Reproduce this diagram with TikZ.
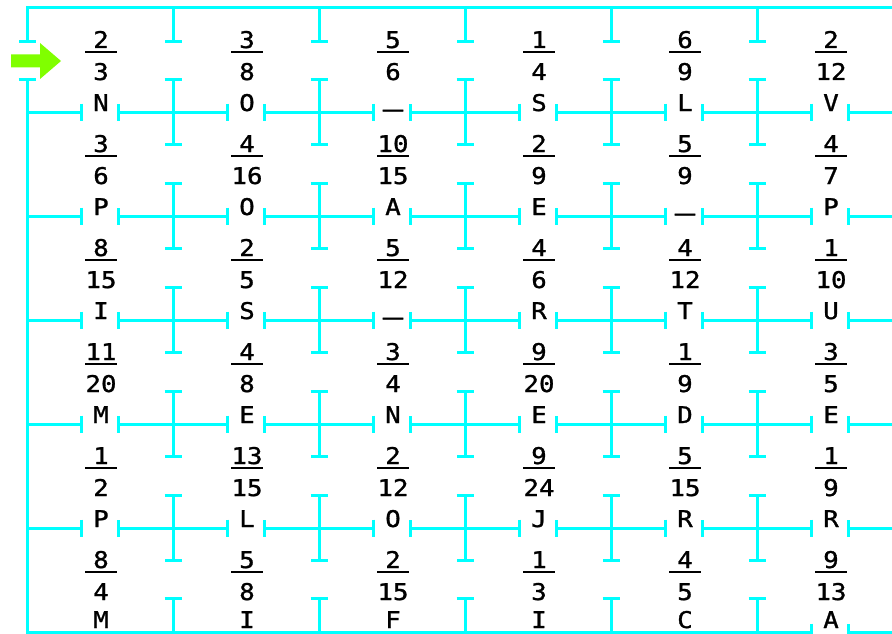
\documentclass[tikz,border=0pt]{standalone}
\usepackage{fontspec}
\newfontfamily\mazefont[FakeStretch=1.12, FakeBold=1.2]{DejaVu Sans Mono}
\usetikzlibrary{arrows.meta}
\definecolor{wallcyan}{RGB}{0,255,255}
\definecolor{entrygreen}{RGB}{128,255,0}
\newcommand\blankmark{\raisebox{9.3pt}{\scalebox{1.3}[1.8]{\_}}}

\begin{document}
\begin{tikzpicture}[
  x=1pt, y=-1pt,
  wall/.style={draw=wallcyan, line width=3pt},
  capboth/.style={wall, {Bar[width=17pt]}-{Bar[width=17pt]}},
  capend/.style={wall, -{Bar[width=17pt]}},
  capstart/.style={wall, {Bar[width=17pt]}-},
  glyph/.style={font=\mazefont\fontsize{23}{23}\selectfont, inner sep=0pt, anchor=base},
  fracbar/.style={line width=2pt}
]
\useasboundingbox (0,0) rectangle (892,634);
% outer walls, with the way in on the left and the way out at the bottom right
\draw[capstart] (27,42.7) -- (27,8) -- (892,8);
\draw[capboth] (27,78.3) -- (27,632) -- (813,632);
\draw[capstart] (847,632) -- (892,632);
% inner walls: rows
\foreach \k in {1,...,5} {
  \pgfmathsetmacro\yk{8+104*\k}
  \draw[capend] (27,\yk) -- (83,\yk);
  \foreach \c in {0,...,4}
    \draw[capboth] ({117+146*\c},\yk) -- ({229+146*\c},\yk);
  \draw[capstart] (847,\yk) -- (892,\yk);
}
% inner walls: columns
\foreach \j in {1,...,5} {
  \pgfmathsetmacro\xj{27+146*\j}
  \draw[capend] (\xj,8) -- (\xj,42.7);
  \foreach \k in {1,...,5}
    \draw[capboth] (\xj,{8+104*\k-34}) -- (\xj,{8+104*\k+34});
  \draw[capstart] (\xj,597.3) -- (\xj,632);
}
% entry arrow
\fill[entrygreen] (11,54.5) -- (40,54.5) -- (40,43) -- (61,61) -- (40,79)
  -- (40,67.5) -- (11,67.5) -- cycle;
% cells: fraction and letter
\foreach \row [count=\r from 0] in {
  {2/3/N, 3/8/O, 5/6/\blankmark, 1/4/S, 6/9/L, 2/12/V},
  {3/6/P, 4/16/O, 10/15/A, 2/9/E, 5/9/\blankmark, 4/7/P},
  {8/15/I, 2/5/S, 5/12/\blankmark, 4/6/R, 4/12/T, 1/10/U},
  {11/20/M, 4/8/E, 3/4/N, 9/20/E, 1/9/D, 3/5/E},
  {1/2/P, 13/15/L, 2/12/O, 9/24/J, 5/15/R, 1/9/R},
  {8/4/M, 5/8/I, 2/15/F, 1/3/I, 4/5/C, 9/13/A}} {
  \foreach \nm/\dn/\ltr [count=\c from 0] in \row {
    \pgfmathsetmacro\cx{101+146*\c}
    \pgfmathsetmacro\cy{8+104*\r}
    \pgfmathsetmacro\ly{\r==5 ? 100 : 103}
    \node[glyph] (num-\r-\c) at (\cx,\cy+40) {\nm};
    \draw[fracbar] (\cx-16,\cy+44) -- (\cx+16,\cy+44);
    \node[glyph] (den-\r-\c) at (\cx,\cy+72) {\dn};
    \node[glyph] (ltr-\r-\c) at (\cx,\cy+\ly) {\ltr};
  }
}
\end{tikzpicture}
\end{document}
